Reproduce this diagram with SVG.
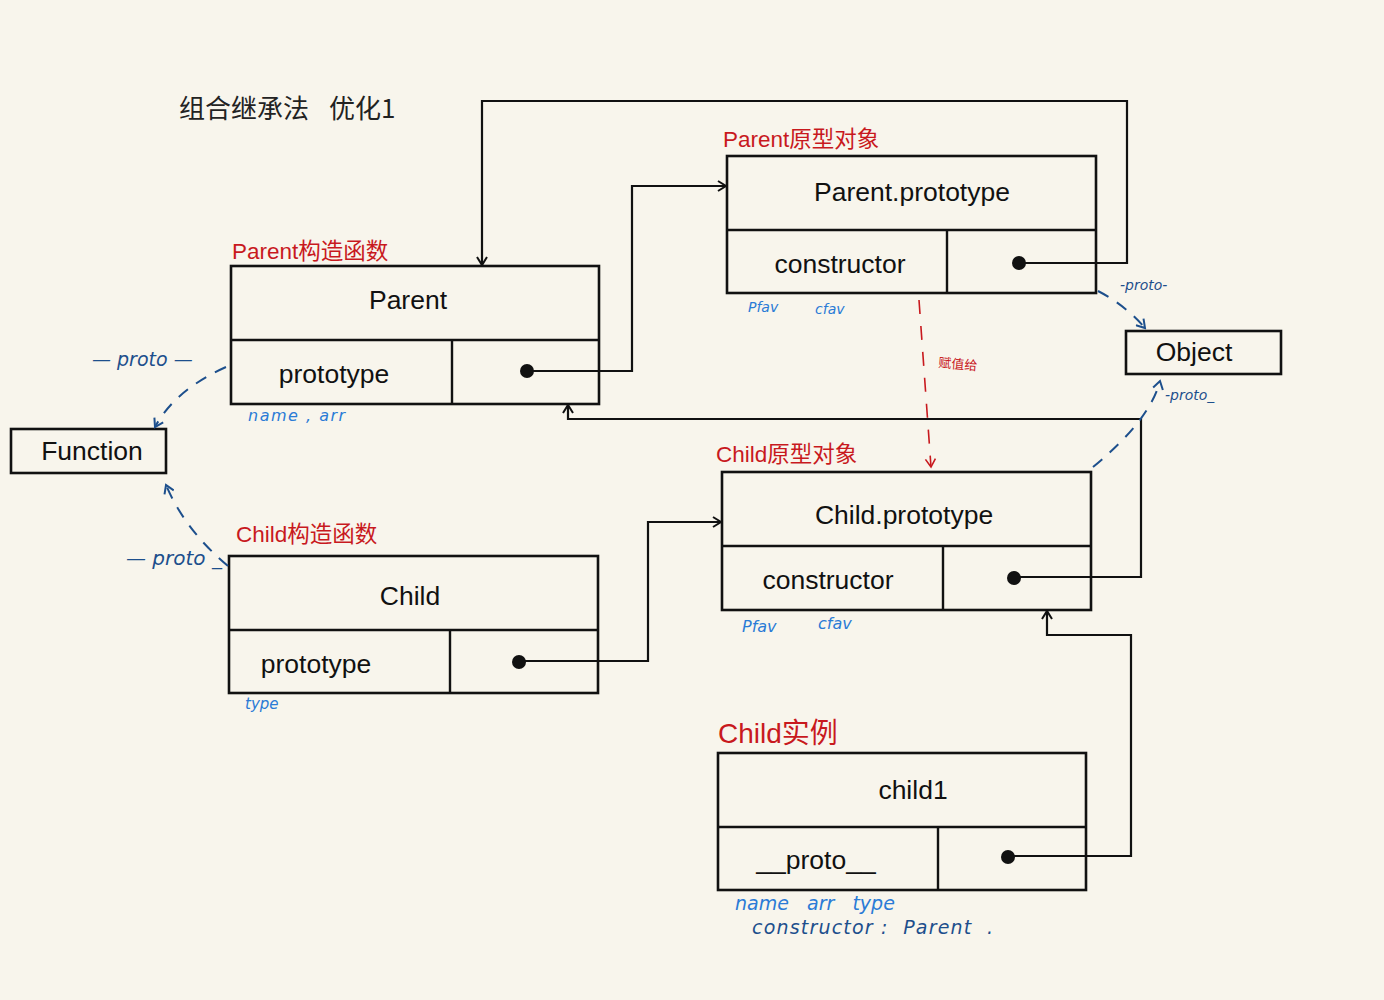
<svg xmlns="http://www.w3.org/2000/svg" width="1384" height="1000" viewBox="0 0 1384 1000">
  <defs>
    <style>
      .box { fill: none; stroke: #111; stroke-width: 2.6; }
      .div { stroke: #111; stroke-width: 2.4; fill: none; }
      .lbl { font-family: "Liberation Sans", Arial, sans-serif; font-size: 26.5px; fill: #111; text-anchor: middle; dominant-baseline: central; }
      .cap { font-family: "Liberation Sans", "Noto Sans CJK SC", sans-serif; font-size: 22.5px; fill: #c8191e; }
      .dot { fill: #111; }
      .wire { fill: none; stroke: #111; stroke-width: 2.2; }
      .red { fill: none; stroke: #c8191e; stroke-width: 1.6; stroke-dasharray: 14 12; }
      .blue { fill: none; stroke: #1d4f8c; stroke-width: 2; stroke-dasharray: 12 10; }
      .hand { font-family: "DejaVu Sans", sans-serif; font-style: italic; fill: #2a7bd6; }
      .hand2 { font-family: "DejaVu Sans", sans-serif; font-style: italic; fill: #1d4f8c; }
    </style>
    <marker id="arr" markerWidth="12" markerHeight="12" refX="10" refY="6" orient="auto" markerUnits="userSpaceOnUse">
      <path d="M2,1 L10,6 L2,11" fill="none" stroke="#111" stroke-width="2"/>
    </marker>
    <marker id="arrR" markerWidth="12" markerHeight="12" refX="10" refY="6" orient="auto" markerUnits="userSpaceOnUse">
      <path d="M2,1 L10,6 L2,11" fill="none" stroke="#c8191e" stroke-width="1.6"/>
    </marker>
    <marker id="arrB" markerWidth="12" markerHeight="12" refX="10" refY="6" orient="auto" markerUnits="userSpaceOnUse">
      <path d="M2,1 L10,6 L2,11" fill="none" stroke="#1d4f8c" stroke-width="2"/>
    </marker>
  </defs>

  <rect x="0" y="0" width="1384" height="1000" fill="#f8f5ec"/>

  <!-- title -->
  <text x="179" y="118" font-family="Noto Sans CJK SC, sans-serif" font-size="26" fill="#222">组合继承法</text>
  <text x="329" y="118" font-family="Noto Sans CJK SC, sans-serif" font-size="26" fill="#222">优化1</text>

  <!-- Parent constructor -->
  <g id="parent">
    <text class="cap" x="232" y="259">Parent构造函数</text>
    <rect class="box" x="231" y="266" width="368" height="138"/>
    <line class="div" x1="231" y1="340" x2="599" y2="340"/>
    <line class="div" x1="452" y1="340" x2="452" y2="404"/>
    <text class="lbl" x="408" y="300">Parent</text>
    <text class="lbl" x="334" y="374">prototype</text>
    <circle class="dot" cx="527" cy="371" r="7"/>
    <text class="hand" x="248" y="421" font-size="16" letter-spacing="1.5" xml:space="preserve">name , arr</text>
  </g>

  <!-- Parent.prototype -->
  <g id="parent-prototype">
    <text class="cap" x="723" y="147">Parent原型对象</text>
    <rect class="box" x="727" y="156" width="369" height="137"/>
    <line class="div" x1="727" y1="230" x2="1096" y2="230"/>
    <line class="div" x1="947" y1="230" x2="947" y2="293"/>
    <text class="lbl" x="912" y="192">Parent.prototype</text>
    <text class="lbl" x="840" y="264">constructor</text>
    <circle class="dot" cx="1019" cy="263" r="7"/>
    <text class="hand" x="748" y="312" font-size="14">Pfav</text>
    <text class="hand" x="815" y="314" font-size="14">cfav</text>
  </g>

  <!-- Object -->
  <g id="object">
    <rect class="box" x="1126" y="331" width="155" height="43"/>
    <text class="lbl" x="1194" y="352">Object</text>
  </g>

  <!-- Function -->
  <g id="function">
    <rect class="box" x="11" y="429" width="155" height="44"/>
    <text class="lbl" x="92" y="451">Function</text>
  </g>

  <!-- Child.prototype -->
  <g id="child-prototype">
    <text class="cap" x="716" y="462">Child原型对象</text>
    <rect class="box" x="722" y="472" width="369" height="138"/>
    <line class="div" x1="722" y1="546" x2="1091" y2="546"/>
    <line class="div" x1="943" y1="546" x2="943" y2="610"/>
    <text class="lbl" x="904" y="515">Child.prototype</text>
    <text class="lbl" x="828" y="580">constructor</text>
    <circle class="dot" cx="1014" cy="578" r="7"/>
    <text class="hand" x="742" y="632" font-size="16">Pfav</text>
    <text class="hand" x="818" y="629" font-size="16">cfav</text>
  </g>

  <!-- Child constructor -->
  <g id="child">
    <text class="cap" x="236" y="542">Child构造函数</text>
    <rect class="box" x="229" y="556" width="369" height="137"/>
    <line class="div" x1="229" y1="630" x2="598" y2="630"/>
    <line class="div" x1="450" y1="630" x2="450" y2="693"/>
    <text class="lbl" x="410" y="596">Child</text>
    <text class="lbl" x="316" y="664">prototype</text>
    <circle class="dot" cx="519" cy="662" r="7"/>
    <text class="hand" x="245" y="709" font-size="15">type</text>
  </g>

  <!-- child1 instance -->
  <g id="child1">
    <text class="cap" x="718" y="743" style="font-size:28px">Child实例</text>
    <rect class="box" x="718" y="753" width="368" height="137"/>
    <line class="div" x1="718" y1="827" x2="1086" y2="827"/>
    <line class="div" x1="938" y1="827" x2="938" y2="890"/>
    <text class="lbl" x="913" y="790">child1</text>
    <text class="lbl" x="816" y="860">__proto__</text>
    <circle class="dot" cx="1008" cy="857" r="7"/>
    <text class="hand" x="735" y="910" font-size="19" xml:space="preserve">name   arr   type</text>
    <text class="hand2" x="752" y="934" font-size="19" letter-spacing="1.2" xml:space="preserve">constructor :  Parent  .</text>
  </g>

  <!-- connectors -->
  <g id="connectors">
    <path class="wire" d="M527,371 H632 V186 H726" marker-end="url(#arr)"/>
    <path class="wire" d="M1019,263 H1127 V101 H482 V265" marker-end="url(#arr)"/>
    <path class="wire" d="M1014,577 H1141 V419 H568 V405" marker-end="url(#arr)"/>
    <path class="wire" d="M519,661 H648 V522 H721" marker-end="url(#arr)"/>
    <path class="wire" d="M1008,856 H1131 V635 H1047 V611" marker-end="url(#arr)"/>

    <path class="red" d="M919,300 L931,467" marker-end="url(#arrR)"/>
    <text x="938" y="367" font-family="Noto Sans CJK SC, sans-serif" font-size="13" fill="#c8191e" transform="rotate(5 938 367)">赋值给</text>

    <path class="blue" d="M1098,291 Q1125,305 1145,328" marker-end="url(#arrB)"/>
    <text class="hand2" x="1120" y="290" font-size="14">-proto-</text>
    <path class="blue" d="M1093,467 Q1150,420 1160,381" marker-end="url(#arrB)"/>
    <text class="hand2" x="1165" y="400" font-size="14">-proto_</text>
    <path class="blue" d="M226,367 Q175,390 155,427" marker-end="url(#arrB)"/>
    <text class="hand2" x="92" y="366" font-size="19" xml:space="preserve">— proto —</text>
    <path class="blue" d="M228,566 Q185,530 166,485" marker-end="url(#arrB)"/>
    <text class="hand2" x="126" y="565" font-size="20" xml:space="preserve">— proto _</text>
  </g>
</svg>
